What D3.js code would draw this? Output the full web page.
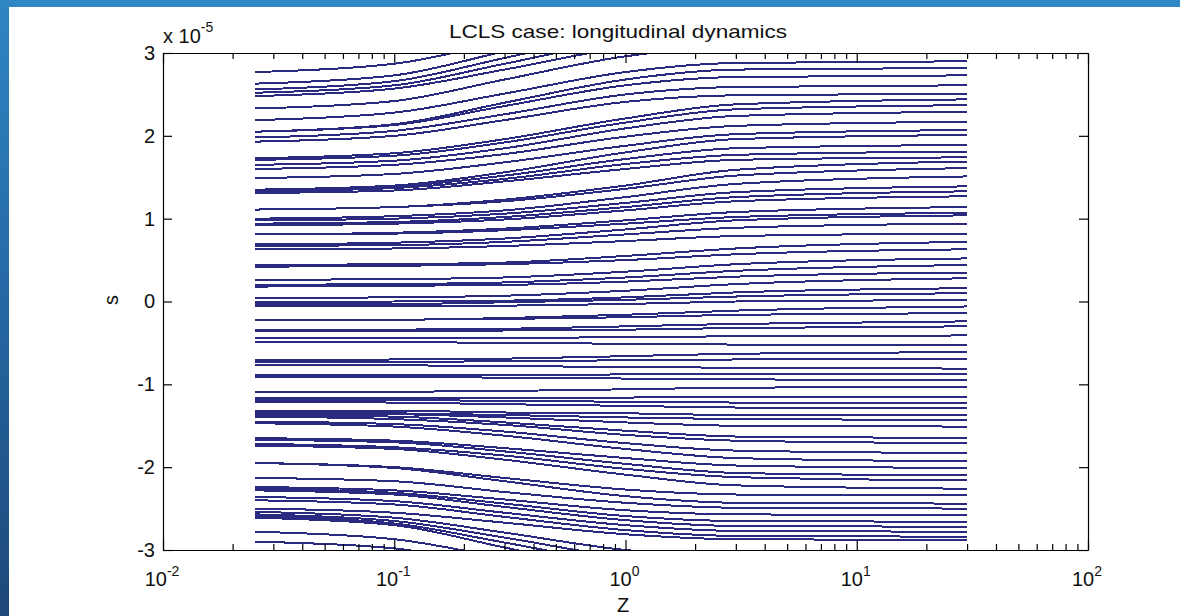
<!DOCTYPE html>
<html>
<head>
<meta charset="utf-8">
<script src="https://cdn.jsdelivr.net/npm/d3@7"></script>
<style>
  body { margin: 0; background: #fff; }
  svg { display: block; font-family: "Liberation Sans", Arial, sans-serif; }
</style>
</head>
<body>
<svg id="chart" width="1180" height="616"></svg>
<script>
const zKnots = [0.025, 0.1, 0.3, 1, 3, 30];

// s (x 1e-5) of each track at the z knots above
const topTracks = [
  [2.77, 2.87, 3.14, 3.45, 3.58, 3.60],
  [2.63, 2.73, 3.02, 3.34, 3.47, 3.50],
  [2.56, 2.66, 2.94, 3.25, 3.37, 3.40],
  [2.52, 2.61, 2.87, 3.16, 3.28, 3.30],
  [2.48, 2.57, 2.80, 3.07, 3.18, 3.20],
  [2.33, 2.42, 2.68, 2.96, 3.08, 3.10],
  [2.19, 2.28, 2.51, 2.77, 2.88, 2.90],
  [2.05, 2.14, 2.40, 2.68, 2.80, 2.82],
  [2.05, 2.13, 2.36, 2.61, 2.71, 2.73],
  [1.98, 2.06, 2.26, 2.50, 2.59, 2.61],
  [1.93, 2.00, 2.19, 2.41, 2.49, 2.51],
  [1.73, 1.79, 1.96, 2.21, 2.38, 2.44],
  [1.71, 1.76, 1.92, 2.16, 2.32, 2.37],
  [1.65, 1.70, 1.85, 2.09, 2.24, 2.29],
  [1.60, 1.65, 1.78, 1.99, 2.12, 2.17],
  [1.49, 1.54, 1.68, 1.88, 2.02, 2.07],
  [1.35, 1.40, 1.56, 1.80, 1.96, 2.01],
  [1.35, 1.39, 1.52, 1.72, 1.85, 1.89],
  [1.33, 1.37, 1.48, 1.66, 1.77, 1.81],
  [1.31, 1.34, 1.45, 1.60, 1.71, 1.74]
];

const midTracks = [
  [1.11, 1.14, 1.23, 1.40, 1.59, 1.69],
  [1.11, 1.14, 1.21, 1.36, 1.52, 1.61],
  [1.00, 1.03, 1.10, 1.26, 1.42, 1.51],
  [0.98, 1.00, 1.06, 1.19, 1.32, 1.39],
  [0.94, 0.96, 1.02, 1.14, 1.26, 1.33],
  [0.92, 0.94, 0.99, 1.10, 1.21, 1.27],
  [0.81, 0.83, 0.88, 0.98, 1.08, 1.14],
  [0.81, 0.82, 0.86, 0.94, 1.02, 1.07],
  [0.69, 0.71, 0.76, 0.87, 0.98, 1.04],
  [0.67, 0.68, 0.72, 0.81, 0.89, 0.94],
  [0.63, 0.64, 0.67, 0.73, 0.79, 0.82],
  [0.44, 0.45, 0.47, 0.55, 0.64, 0.72],
  [0.42, 0.43, 0.45, 0.50, 0.57, 0.63],
  [0.26, 0.27, 0.29, 0.36, 0.45, 0.52],
  [0.20, 0.21, 0.23, 0.29, 0.37, 0.44],
  [0.18, 0.19, 0.20, 0.24, 0.30, 0.35],
  [0.04, 0.05, 0.07, 0.13, 0.21, 0.28],
  [-0.01, 0.00, 0.01, 0.05, 0.11, 0.16],
  [-0.03, -0.03, -0.01, 0.02, 0.06, 0.10],
  [-0.06, -0.06, -0.05, -0.03, 0.00, 0.02],
  [-0.22, -0.22, -0.20, -0.16, -0.11, -0.06],
  [-0.22, -0.22, -0.21, -0.19, -0.16, -0.14],
  [-0.34, -0.34, -0.33, -0.30, -0.27, -0.24],
  [-0.36, -0.36, -0.35, -0.34, -0.32, -0.30],
  [-0.44, -0.44, -0.44, -0.43, -0.42, -0.41],
  [-0.49, -0.49, -0.50, -0.51, -0.52, -0.53],
  [-0.71, -0.70, -0.69, -0.66, -0.63, -0.61],
  [-0.73, -0.73, -0.72, -0.71, -0.70, -0.69],
  [-0.77, -0.77, -0.78, -0.79, -0.80, -0.81],
  [-0.89, -0.89, -0.89, -0.88, -0.88, -0.88],
  [-0.91, -0.91, -0.92, -0.93, -0.94, -0.95],
  [-1.09, -1.09, -1.08, -1.06, -1.04, -1.03],
  [-1.17, -1.17, -1.17, -1.16, -1.15, -1.15],
  [-1.19, -1.19, -1.20, -1.21, -1.22, -1.23]
];

const bottomTracks = [
  [-1.21, -1.22, -1.24, -1.26, -1.28, -1.29],
  [-1.32, -1.32, -1.34, -1.35, -1.37, -1.37],
  [-1.34, -1.35, -1.37, -1.40, -1.42, -1.43],
  [-1.35, -1.36, -1.40, -1.46, -1.50, -1.51],
  [-1.37, -1.39, -1.46, -1.56, -1.63, -1.65],
  [-1.39, -1.42, -1.49, -1.61, -1.68, -1.71],
  [-1.45, -1.48, -1.57, -1.71, -1.80, -1.83],
  [-1.47, -1.51, -1.62, -1.78, -1.89, -1.93],
  [-1.65, -1.68, -1.77, -1.89, -1.98, -2.01],
  [-1.67, -1.70, -1.81, -1.96, -2.07, -2.10],
  [-1.72, -1.76, -1.86, -2.02, -2.12, -2.16],
  [-1.74, -1.78, -1.91, -2.09, -2.22, -2.26],
  [-1.95, -2.00, -2.13, -2.27, -2.33, -2.34],
  [-1.95, -2.01, -2.17, -2.35, -2.43, -2.44],
  [-2.13, -2.17, -2.30, -2.43, -2.49, -2.50],
  [-2.24, -2.28, -2.39, -2.52, -2.57, -2.58],
  [-2.26, -2.31, -2.44, -2.59, -2.65, -2.66],
  [-2.28, -2.33, -2.48, -2.64, -2.71, -2.72],
  [-2.36, -2.41, -2.55, -2.70, -2.77, -2.78],
  [-2.40, -2.45, -2.60, -2.76, -2.83, -2.84],
  [-2.50, -2.55, -2.67, -2.81, -2.87, -2.88],
  [-2.54, -2.61, -2.79, -3.00, -3.08, -3.10],
  [-2.57, -2.65, -2.85, -3.09, -3.18, -3.20],
  [-2.59, -2.68, -2.91, -3.17, -3.28, -3.30],
  [-2.61, -2.70, -2.97, -3.26, -3.38, -3.40],
  [-2.78, -2.87, -3.10, -3.37, -3.48, -3.50],
  [-2.90, -2.98, -3.22, -3.47, -3.58, -3.60]
];

const xDecades = [0.01, 0.1, 1, 10, 100];
const xExponents = ["-2", "-1", "0", "1", "2"];
const yTicks = [-3, -2, -1, 0, 1, 2, 3];

// layout
const W = 1180, H = 616;
const margin = { top: 53, right: 92, bottom: 66, left: 163 };
const width = W - margin.left - margin.right;
const height = H - margin.top - margin.bottom;

const svg = d3.select("#chart");

// slide frame: blue strips at top and left
const defs = svg.append("defs");
const grad = defs.append("linearGradient")
    .attr("id", "sideBlue")
    .attr("x1", 0).attr("y1", 0).attr("x2", 0).attr("y2", 1);
grad.append("stop").attr("offset", "0%").attr("stop-color", "#2e86c3");
grad.append("stop").attr("offset", "50%").attr("stop-color", "#2467a3");
grad.append("stop").attr("offset", "100%").attr("stop-color", "#1e4878");

svg.append("rect").attr("x", 0).attr("y", 0).attr("width", W).attr("height", 7).attr("fill", "#2f87c4");
svg.append("rect").attr("x", 0).attr("y", 0).attr("width", 9).attr("height", H).attr("fill", "url(#sideBlue)");

defs.append("clipPath").attr("id", "plotClip")
  .append("rect").attr("width", width).attr("height", height);

const g = svg.append("g")
    .attr("transform", "translate(" + margin.left + "," + margin.top + ")");

// scales
const x = d3.scaleLog().domain([0.01, 100]).range([0, width]);
const y = d3.scaleLinear().domain([-3, 3]).range([height, 0]);

// tracks
const tracks = topTracks.concat(midTracks, bottomTracks);
const line = d3.line()
    .x((d, i) => x(zKnots[i]))
    .y(d => y(d))
    .curve(d3.curveMonotoneX);

g.append("g")
    .attr("clip-path", "url(#plotClip)")
  .selectAll("path")
  .data(tracks)
  .enter().append("path")
    .attr("d", line)
    .attr("fill", "none")
    .attr("stroke", "#2a2a80")
    .attr("stroke-width", 2)
    .attr("shape-rendering", "crispEdges");

// axes (MATLAB style: inward ticks on all four sides)
const minorTicks = x.ticks().filter(v => !xDecades.some(d => Math.abs(d - v) < 1e-9));

function styleAxis(sel) {
  sel.selectAll("path").attr("stroke", "#000").attr("stroke-width", 1.2);
  sel.selectAll("line").attr("stroke", "#000").attr("stroke-width", 1.2);
}

g.append("g")
    .attr("transform", "translate(0," + height + ")")
    .call(d3.axisBottom(x).tickValues(xDecades).tickSize(-10).tickSizeOuter(0).tickFormat(""))
    .call(styleAxis);
g.append("g")
    .attr("transform", "translate(0," + height + ")")
    .call(d3.axisBottom(x).tickValues(minorTicks).tickSize(-6).tickSizeOuter(0).tickFormat(""))
    .call(styleAxis);
g.append("g")
    .call(d3.axisTop(x).tickValues(xDecades).tickSize(-10).tickSizeOuter(0).tickFormat(""))
    .call(styleAxis);
g.append("g")
    .call(d3.axisTop(x).tickValues(minorTicks).tickSize(-6).tickSizeOuter(0).tickFormat(""))
    .call(styleAxis);

const yAxis = g.append("g")
    .call(d3.axisLeft(y).tickValues(yTicks).tickSize(-9).tickSizeOuter(0).tickPadding(8)
      .tickFormat(d => String(d)))
    .call(styleAxis);
yAxis.selectAll("text")
    .attr("font-size", 20)
    .attr("fill", "#111")
    .attr("font-family", "Liberation Sans, Arial, sans-serif");

g.append("g")
    .attr("transform", "translate(" + width + ",0)")
    .call(d3.axisRight(y).tickValues(yTicks).tickSize(-9).tickSizeOuter(0).tickFormat(""))
    .call(styleAxis);

// decade labels 10^n
const xLab = g.append("g").attr("fill", "#111");
xDecades.forEach((d, i) => {
  const t = xLab.append("text")
      .attr("x", x(d) - 1)
      .attr("y", height + 36)
      .attr("text-anchor", "middle")
      .attr("font-size", 20);
  t.append("tspan").text("10");
  t.append("tspan").attr("font-size", 14).attr("dy", -10).text(xExponents[i]);
});

// exponent multiplier above y axis
const mult = svg.append("text")
    .attr("x", margin.left)
    .attr("y", 43)
    .attr("font-size", 20)
    .attr("fill", "#111");
mult.append("tspan").text("x 10");
mult.append("tspan").attr("font-size", 14).attr("dy", -11).text("-5");

// title and axis labels
svg.append("text")
    .attr("x", 618)
    .attr("y", 38)
    .attr("text-anchor", "middle")
    .attr("font-size", 19)
    .attr("textLength", 338)
    .attr("lengthAdjust", "spacingAndGlyphs")
    .attr("fill", "#111")
    .text("LCLS case: longitudinal dynamics");

svg.append("text")
    .attr("transform", "translate(118,300) rotate(-90)")
    .attr("text-anchor", "middle")
    .attr("font-size", 20)
    .attr("fill", "#111")
    .text("s");

svg.append("text")
    .attr("x", 623)
    .attr("y", 612)
    .attr("text-anchor", "middle")
    .attr("font-size", 20)
    .attr("fill", "#111")
    .text("Z");
</script>
</body>
</html>
